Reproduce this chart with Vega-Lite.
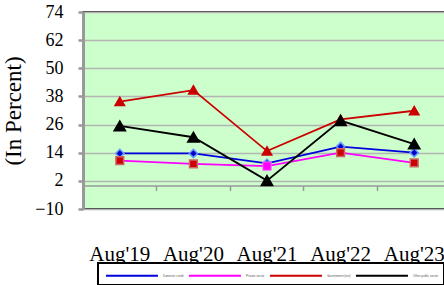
{
  "$schema": "https://vega.github.io/schema/vega-lite/v6.json",
  "autosize": "none",
  "width": 368,
  "height": 197,
  "padding": {"left": 83, "top": 12, "right": 0, "bottom": 76},
  "background": "white",
  "config": {
    "view": {"fill": "#CCFFCC", "stroke": "#000000", "strokeWidth": 1.5},
    "font": "Liberation Serif"
  },
  "data": {
    "values": [
      {"date": "Aug'19", "series": "Domestic credit", "value": 13.7},
      {"date": "Aug'20", "series": "Domestic credit", "value": 13.7},
      {"date": "Aug'21", "series": "Domestic credit", "value": 9.5},
      {"date": "Aug'22", "series": "Domestic credit", "value": 16.6},
      {"date": "Aug'23", "series": "Domestic credit", "value": 14.0},
      {"date": "Aug'19", "series": "Private sector", "value": 10.6},
      {"date": "Aug'20", "series": "Private sector", "value": 9.2},
      {"date": "Aug'21", "series": "Private sector", "value": 8.3},
      {"date": "Aug'22", "series": "Private sector", "value": 14.0},
      {"date": "Aug'23", "series": "Private sector", "value": 9.7},
      {"date": "Aug'19", "series": "Government (net)", "value": 35.8},
      {"date": "Aug'20", "series": "Government (net)", "value": 40.7},
      {"date": "Aug'21", "series": "Government (net)", "value": 14.7},
      {"date": "Aug'22", "series": "Government (net)", "value": 28.2},
      {"date": "Aug'23", "series": "Government (net)", "value": 31.9},
      {"date": "Aug'19", "series": "Other public sector", "value": 25.4},
      {"date": "Aug'20", "series": "Other public sector", "value": 20.6},
      {"date": "Aug'21", "series": "Other public sector", "value": 2.1},
      {"date": "Aug'22", "series": "Other public sector", "value": 27.7},
      {"date": "Aug'23", "series": "Other public sector", "value": 17.7}
    ]
  },
  "encoding": {
    "x": {
      "field": "date", "type": "nominal", "sort": null,
      "scale": {"type": "band", "paddingInner": 0, "paddingOuter": 0},
      "axis": {
        "title": null, "labelAngle": 0, "offset": -23.5,
        "bandPosition": 0,
        "domainColor": "#999999", "domainWidth": 1.5,
        "tickColor": "#999999", "tickWidth": 1.5, "tickSize": 5,
        "labelFont": "Liberation Serif", "labelFontSize": 21, "labelColor": "#000000",
        "labelPadding": 53, "grid": false
      }
    },
    "y": {
      "field": "value", "type": "quantitative",
      "scale": {"domain": [-10, 74], "nice": false, "zero": false},
      "axis": {
        "values": [-10, 2, 14, 26, 38, 50, 62, 74],
        "title": "(In Percent)",
        "titleFont": "Liberation Serif", "titleFontSize": 23, "titleFontWeight": "normal",
        "titleColor": "#000000", "titlePadding": 9,
        "labelFont": "Liberation Serif", "labelFontSize": 18, "labelColor": "#000000",
        "labelPadding": 15,
        "domainColor": "#999999", "domainWidth": 3,
        "tickColor": "#999999", "tickWidth": 2.5, "tickSize": 5,
        "gridColor": "#B4B4B4", "gridWidth": 1.5
      }
    }
  },
  "layer": [
    {
      "mark": {"type": "line", "strokeWidth": 1.8},
      "encoding": {
        "color": {
          "field": "series", "type": "nominal",
          "scale": {
            "domain": ["Domestic credit", "Private sector", "Government (net)", "Other public sector"],
            "range": ["#0000DD", "#FF00FF", "#CC0000", "#000000"]
          },
          "legend": {
            "title": null, "orient": "none", "legendX": 15, "legendY": 251,
            "direction": "horizontal", "columns": 4,
            "symbolType": "M-0.7,0H7.3", "symbolSize": 169, "symbolStrokeWidth": 2,
            "labelFontSize": 3, "labelFont": "Liberation Sans", "labelColor": "#555555",
            "labelOffset": 45, "columnPadding": 0,
            "strokeColor": "#000000", "fillColor": "white",
            "padding": 5,
            "encode": {"legend": {"update": {"strokeWidth": {"value": 2}}}}
          }
        }
      }
    },
    {
      "transform": [{"filter": "datum.series === 'Domestic credit'"}],
      "mark": {"type": "point", "shape": "diamond", "filled": true, "fill": "#0000CC", "stroke": "#6699FF", "strokeWidth": 1.5, "size": 70, "opacity": 1}
    },
    {
      "transform": [{"filter": "datum.series === 'Private sector' && datum.date !== \"Aug'21\""}],
      "mark": {"type": "point", "shape": "square", "filled": true, "fill": "#CC0000", "stroke": "#CC6666", "strokeWidth": 1.5, "size": 60, "opacity": 1}
    },
    {
      "transform": [{"filter": "datum.series === 'Private sector' && datum.date === \"Aug'21\""}],
      "mark": {"type": "point", "shape": "square", "filled": true, "fill": "#FF00FF", "stroke": "#FF66FF", "strokeWidth": 1, "size": 70, "opacity": 1}
    },
    {
      "transform": [{"filter": "datum.series === 'Government (net)'"}],
      "mark": {"type": "point", "shape": "triangle-up", "filled": true, "fill": "#CC0000", "stroke": "#CC0000", "size": 75, "opacity": 1}
    },
    {
      "transform": [{"filter": "datum.series === 'Other public sector'"}],
      "mark": {"type": "point", "shape": "triangle-up", "filled": true, "fill": "#000000", "stroke": "#000000", "size": 110, "opacity": 1}
    }
  ]
}
